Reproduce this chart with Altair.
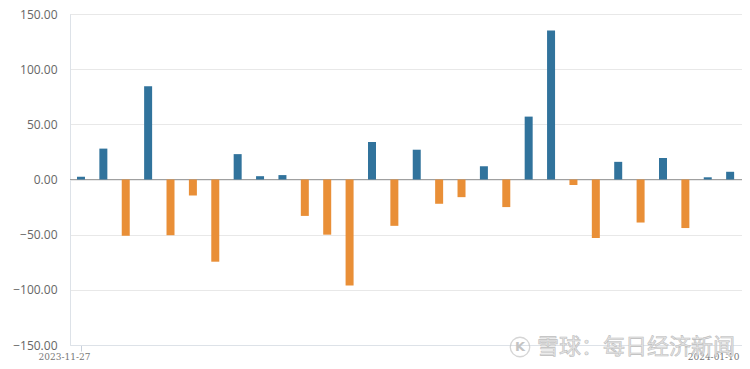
import altair as alt
import pandas as pd

values = [2.5, 28, -51, 84.5, -50.5, -14.5, -74.5, 23, 3, 4,
          -33, -50, -96, 34, -42, 27, -22, -16, 12, -25,
          57, 135, -5, -53, 16, -39, 19.5, -44, 2, 7]
first_label = "2023-11-27"
last_label = "2024-01-10"
watermark = "雪球：每日经济新闻"
pos_color = "#31739c"
neg_color = "#e98f37"

df = pd.DataFrame({
    "i": list(range(len(values))),
    "v": values,
})
df["sign"] = ["pos" if v >= 0 else "neg" for v in values]

n = len(values)
x_scale = alt.Scale(domain=[-0.49, 29.53], nice=False, zero=False, padding=0)
y_scale = alt.Scale(domain=[-150, 150], nice=False)

bars = alt.Chart(df).mark_bar(size=8).encode(
    x=alt.X("i:Q", scale=x_scale, title=None,
            axis=alt.Axis(values=[0, n - 1], grid=False,
                          labelExpr=f"datum.value == 0 ? '{first_label}' : '{last_label}'",
                          labelFont="DejaVu Serif Condensed", labelFontSize=10,
                          labelColor="#777", labelOffset=-17, labelPadding=0,
                          tickColor="#c8d0dc", tickSize=6, domainColor="#dde2e8",
                          labelOverlap=False, labelBound=False, labelFlush=False)),
    y=alt.Y("v:Q", scale=y_scale, title=None,
            axis=alt.Axis(values=[-150, -100, -50, 0, 50, 100, 150], format=".2f",
                          ticks=False, labelPadding=13, labelFont="Open Sans",
                          labelFontSize=12, labelColor="#666",
                          gridColor="#e8e8e8", domainColor="#dde2e8")),
    color=alt.Color("sign:N", scale=alt.Scale(domain=["pos", "neg"], range=[pos_color, neg_color]),
                    legend=None),
)

zero = alt.Chart(pd.DataFrame({"y": [0]})).mark_rule(color="#a0a0a0", strokeWidth=1).encode(
    y=alt.Y("y:Q", scale=y_scale)
)

wm = alt.Chart(pd.DataFrame({"t": [watermark]})).mark_text(
    font="Noto Sans CJK SC", fontSize=22, color="#e6e6e6", align="left", baseline="middle",
    stroke="#bdbdbd", strokeWidth=0.6
).encode(text="t:N", x=alt.value(467), y=alt.value(333))

logo = alt.Chart(pd.DataFrame({"t": ["K"]})).mark_point(
    shape="circle", size=380, color="#c4c4c4", strokeWidth=1.3, filled=False
).encode(x=alt.value(450), y=alt.value(333))

logo_t = alt.Chart(pd.DataFrame({"t": ["K"]})).mark_text(
    font="DejaVu Sans", fontSize=13, color="#c4c4c4", fontWeight="bold"
).encode(text="t:N", x=alt.value(450), y=alt.value(333))

chart = alt.layer(zero, bars, wm, logo, logo_t).properties(
    width=672, height=331,
    autosize=alt.AutoSizeParams(type="none"),
    padding={"left": 62, "top": 6, "right": 0, "bottom": 16},
).configure_view(stroke=None).configure(background="white")

chart.save("out.html", embed_options={"renderer": "svg", "actions": False})
